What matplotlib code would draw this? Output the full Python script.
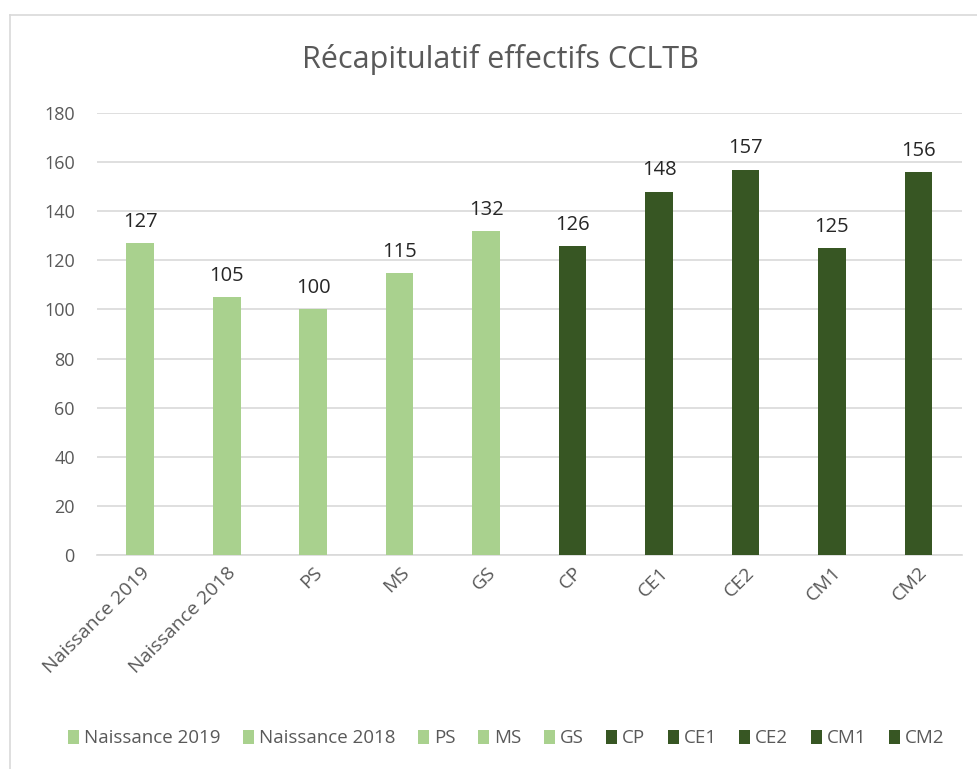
import matplotlib.pyplot as plt
from matplotlib.patches import Patch
from matplotlib.lines import Line2D

categories = ['Naissance 2019', 'Naissance 2018', 'PS', 'MS', 'GS',
              'CP', 'CE1', 'CE2', 'CM1', 'CM2']
effectifs = [127, 105, 100, 115, 132, 126, 148, 157, 125, 156]
light = '#A9D18E'
dark = '#375623'
bar_colors = [light] * 5 + [dark] * 5

plt.rcParams['font.family'] = ['Open Sans', 'DejaVu Sans']

fig = plt.figure(figsize=(9.77, 7.69), dpi=100)
ax = fig.add_axes([0.0993, 0.2783, 0.885, 0.5747])

x = range(len(categories))
bars = ax.bar(x, effectifs, width=0.32, color=bar_colors, zorder=3)

# etiquettes de valeurs
for b, v in zip(bars, effectifs):
    ax.annotate(str(v), (b.get_x() + b.get_width() / 2, v), xytext=(0, 8),
                textcoords='offset points', ha='center', va='bottom',
                fontsize=14.5, color='#262626')

ax.set_ylim(0, 180)
ax.set_xlim(-0.5, len(categories) - 0.5)
ax.set_yticks(range(0, 181, 20))
ax.yaxis.grid(True, color='#D9D9D9', linewidth=1.2, zorder=0)
ax.tick_params(axis='y', length=0, pad=16, labelsize=13, labelcolor='#595959')
ax.tick_params(axis='x', length=0, pad=6, labelsize=14, labelcolor='#595959')
ax.set_xticks(list(x))
ax.set_xticklabels(categories, rotation=45, ha='right', rotation_mode='anchor')
for s in ['top', 'right', 'left']:
    ax.spines[s].set_visible(False)
ax.spines['bottom'].set_color('#D9D9D9')
ax.spines['bottom'].set_linewidth(1.2)

fig.text(0.512, 0.922, 'Récapitulatif effectifs CCLTB', ha='center', va='center',
         fontsize=22, color='#595959')

handles = [Patch(facecolor=c) for c in bar_colors]
fig.legend(handles, categories, loc='center', bbox_to_anchor=(0.518, 0.04),
           ncol=10, frameon=False, fontsize=13.5, labelcolor='#595959',
           handlelength=0.6, handleheight=0.8, handletextpad=0.25,
           columnspacing=1.2)

# cadre du graphique
fig.add_artist(Line2D([0.0102, 0.0102], [0, 0.9805], color='#D9D9D9', lw=1.2))
fig.add_artist(Line2D([0.0102, 1.0], [0.9805, 0.9805], color='#D9D9D9', lw=1.2))

fig.savefig('out.png', dpi=100)
